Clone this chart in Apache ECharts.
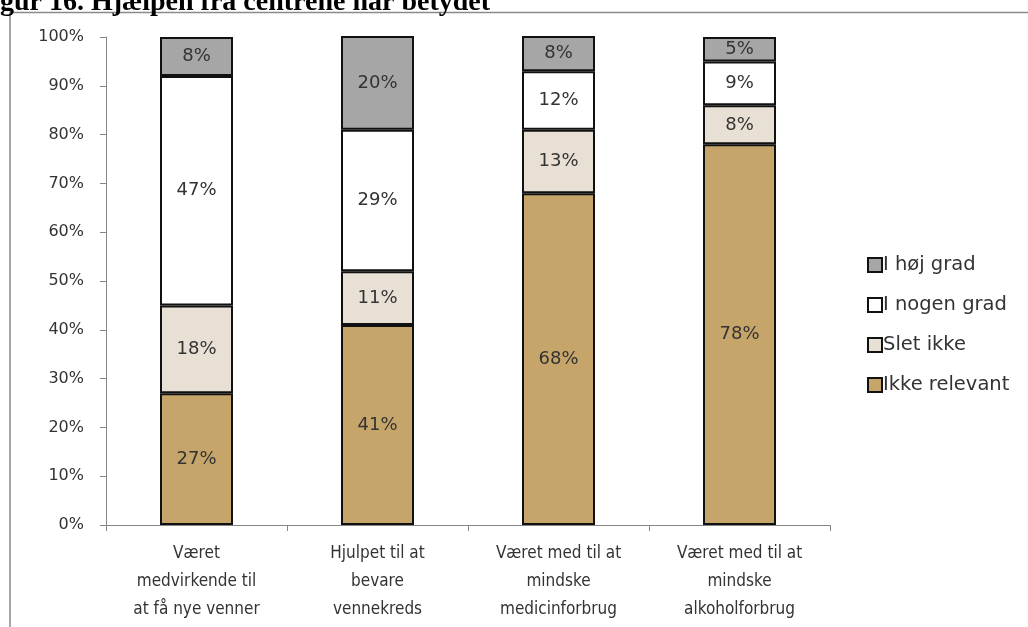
<!DOCTYPE html>
<html>
<head>
<meta charset="utf-8">
<script src="https://cdn.jsdelivr.net/npm/echarts@6/dist/echarts.min.js"></script>
<style>
  html, body { margin: 0; padding: 0; background: #fff; }
  #chart { width: 1028px; height: 627px; }
</style>
</head>
<body>
<div id="chart"></div>
<script>
// kategorier paa x-aksen
const categories = [
  "Været\nmedvirkende til\nat få nye venner",
  "Hjulpet til at\nbevare\nvennekreds",
  "Været med til at\nmindske\nmedicinforbrug",
  "Været med til at\nmindske\nalkoholforbrug"
];
// andele i procent, bund til top
const ikkeRelevant = [27, 41, 68, 78];
const sletIkke = [18, 11, 13, 8];
const iNogenGrad = [47, 29, 12, 9];
const iHojGrad = [8, 20, 8, 5];
const yTicks = [0, 100, 10]; // min, max, interval

const chartDom = document.getElementById("chart");
const myChart = echarts.init(chartDom);

const narrowFont = "Liberation Sans Narrow, DejaVu Sans Condensed, sans-serif";
const wideFont = "DejaVu Sans, sans-serif";

function bar(name, data, color) {
  return {
    name: name,
    type: "bar",
    stack: "total",
    barWidth: 73,
    clip: true,
    data: data,
    itemStyle: {
      color: color,
      borderColor: "#111",
      borderWidth: 2
    },
    label: {
      show: true,
      position: "inside",
      formatter: "{c}%",
      color: "#333",
      fontSize: 18,
      fontFamily: wideFont
    }
  };
}

const option = {
  animation: false,
  backgroundColor: "#fff",
  graphic: [
    {
      type: "polyline",
      shape: { points: [[10, 627], [10, 12.5], [1028, 12.5]] },
      style: { stroke: "#8a8a8a", lineWidth: 1.5, fill: null }
    },
    {
      type: "text",
      x: -25,
      y: 17,
      style: {
        text: "Figur 16. Hjælpen fra centrene har betydet",
        font: "bold 28px 'Liberation Serif', serif",
        fill: "#000",
        verticalAlign: "bottom"
      }
    }
  ],
  legend: {
    orient: "vertical",
    left: 862,
    top: 250,
    itemWidth: 14,
    itemHeight: 14,
    itemGap: 20,
    icon: "rect",
    data: ["I høj grad", "I nogen grad", "Slet ikke", "Ikke relevant"],
    textStyle: { fontSize: 19.5, color: "#333", fontFamily: wideFont, padding: [0, 0, 0, -4] }
  },
  grid: { left: 106, right: 198, top: 37, bottom: 102 },
  xAxis: {
    type: "category",
    data: categories,
    axisLine: { lineStyle: { color: "#868686", width: 1 } },
    axisTick: { show: true, length: 6, lineStyle: { color: "#868686" } },
    axisLabel: {
      color: "#333",
      fontSize: 17,
      fontFamily: narrowFont,
      lineHeight: 28,
      margin: 15,
      interval: 0
    }
  },
  yAxis: {
    type: "value",
    min: yTicks[0],
    max: yTicks[1],
    interval: yTicks[2],
    splitLine: { show: false },
    axisLine: { show: true, lineStyle: { color: "#868686", width: 1 } },
    axisTick: { show: true, length: 6, lineStyle: { color: "#868686" } },
    axisLabel: {
      formatter: "{value}%",
      color: "#333",
      fontSize: 16,
      fontFamily: wideFont,
      margin: 22
    }
  },
  series: [
    bar("Ikke relevant", ikkeRelevant, "#c6a56b"),
    bar("Slet ikke", sletIkke, "#e8e0d4"),
    bar("I nogen grad", iNogenGrad, "#ffffff"),
    bar("I høj grad", iHojGrad, "#a6a6a6")
  ]
};

option && myChart.setOption(option);
</script>
</body>
</html>
